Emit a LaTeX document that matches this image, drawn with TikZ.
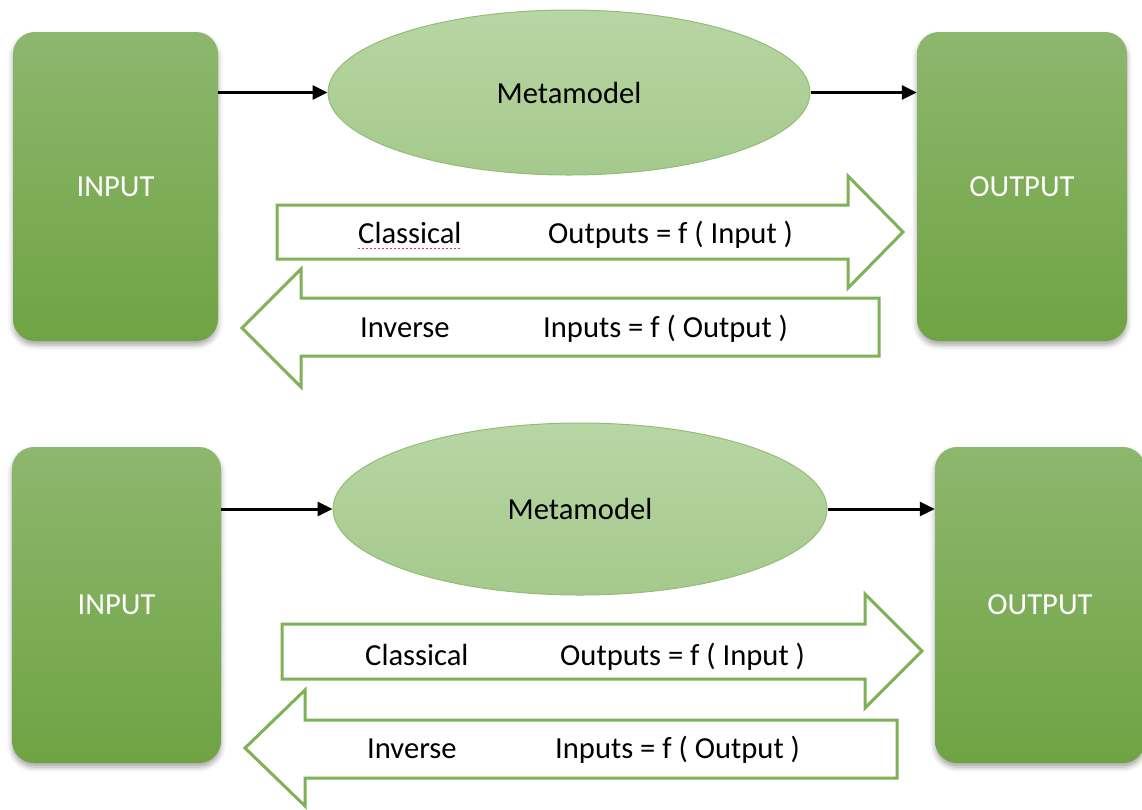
\documentclass[tikz,border=0pt]{standalone}
\usepackage{fontspec}
\setmainfont{Carlito}
\usetikzlibrary{shapes.geometric, arrows.meta, shadows.blur}
\definecolor{mmTop}{HTML}{8EB76E}
\definecolor{mmBot}{HTML}{6FA343}
\definecolor{mmLight}{HTML}{B8D6A4}
\definecolor{mmMid}{HTML}{A5C98C}
\definecolor{mmEdge}{HTML}{93BD76}
\definecolor{mmLine}{HTML}{7EB257}
\definecolor{mmSpell}{HTML}{E0304A}
\tikzset{
  mmbox/.style={rectangle, rounded corners=22pt, top color=mmTop, bottom color=mmBot,
                text=white, inner sep=0pt,
                blur shadow={shadow xshift=0pt, shadow yshift=-4pt, shadow blur radius=5pt, shadow opacity=35}},
  mmmodel/.style={ellipse, draw=mmEdge, line width=1pt, top color=mmLight, bottom color=mmMid, inner sep=0pt},
  mmflow/.style={-{Triangle[length=15pt, width=14pt]}, line width=3pt, color=black},
  mmarrow/.style={draw=mmLine, line width=3pt, fill=white, line join=miter},
  mmlbl/.style={anchor=base west, inner sep=0pt},
}

\begin{document}
\begin{tikzpicture}[x=1pt, y=-1pt, font=\fontsize{30.6}{36}\selectfont]
  \useasboundingbox (0,0) rectangle (1142,809);
  % upper diagram
  \node[mmbox, minimum width=205pt, minimum height=309pt](in1) at (115.5,186.5){INPUT};
  \node[mmbox, minimum width=210pt, minimum height=309pt](out1) at (1022,186.5){OUTPUT};
  \node[mmmodel, minimum width=482pt, minimum height=165pt](mm1) at (569,92.5){Metamodel};
  \draw[mmflow](in1.east |- mm1.west)--(mm1.west);
  \draw[mmflow](mm1.east)--(mm1.east -| out1.west);
  \draw[mmarrow](277,205)--(848,205)--(848,176)--(903,232)--(848,288)--(848,259)--(277,259)--cycle;
  \draw[mmarrow](879,298)--(301,298)--(301,269)--(242,328)--(301,387)--(301,356)--(879,356)--cycle;
  \node[mmlbl](cls1) at (358,243){Classical};
  \node[mmlbl](fwd1) at (548,243){Outputs = f ( Input )};
  \node[mmlbl](inv1) at (360,337){Inverse};
  \node[mmlbl](bwd1) at (543,337){Inputs = f ( Output )};
  \draw[mmSpell, line width=1pt, dash pattern=on 2pt off 2pt]
    ([yshift=-5pt]cls1.base west)--([yshift=-5pt]cls1.base east);
  % lower diagram
  \node[mmbox, minimum width=209pt, minimum height=316pt](in2) at (116.5,605){INPUT};
  \node[mmbox, minimum width=210pt, minimum height=316pt](out2) at (1040,605){OUTPUT};
  \node[mmmodel, minimum width=494pt, minimum height=172pt](mm2) at (580,509){Metamodel};
  \draw[mmflow](in2.east |- mm2.west)--(mm2.west);
  \draw[mmflow](mm2.east)--(mm2.east -| out2.west);
  \draw[mmarrow](282,624)--(865,624)--(865,594)--(922,651)--(865,708)--(865,679)--(282,679)--cycle;
  \draw[mmarrow](897,720)--(305,720)--(305,690)--(245,748)--(305,806)--(305,778)--(897,778)--cycle;
  \node[mmlbl](cls2) at (365,665){Classical};
  \node[mmlbl](fwd2) at (560,665){Outputs = f ( Input )};
  \node[mmlbl](inv2) at (367,758){Inverse};
  \node[mmlbl](bwd2) at (555,758){Inputs = f ( Output )};
\end{tikzpicture}
\end{document}
